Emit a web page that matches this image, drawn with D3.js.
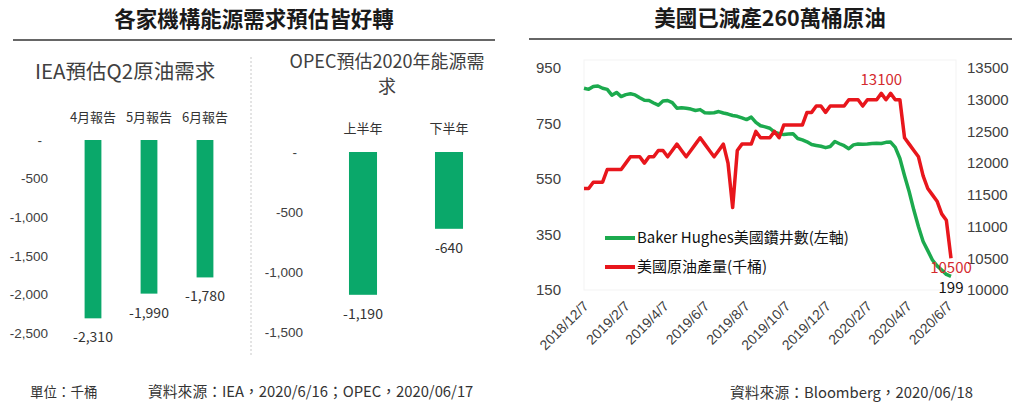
<!DOCTYPE html>
<html>
<head>
<meta charset="utf-8">
<script src="https://cdn.jsdelivr.net/npm/d3@7"></script>
<style>
  body { margin: 0; background: #fff; }
  svg { display: block; font-family: "Noto Sans CJK TC", "Noto Sans", sans-serif; }
  .tick line, .domain { display: none; }
</style>
</head>
<body>
<div id="chart"></div>
<script>
// ---- data ----
var iea_cats = ["4月報告", "5月報告", "6月報告"];
var iea_vals = [-2310, -1990, -1780];
var iea_ticks = [0, -500, -1000, -1500, -2000, -2500];

var opec_cats = ["上半年", "下半年"];
var opec_vals = [-1190, -640];
var opec_ticks = [0, -500, -1000, -1500];

// weekly, first week 2018/12/7
var first_week = "2018-12-07";
var rig_count = [877, 873, 883, 885, 877, 873, 852, 862, 847, 854, 857, 853, 843, 834, 833, 824,
  816, 831, 833, 825, 805, 807, 805, 802, 797, 800, 789, 788, 789, 793, 788, 784,
  779, 776, 770, 764, 773, 754, 742, 738, 733, 719, 713, 710, 712, 713, 696, 691,
  684, 674, 671, 668, 663, 667, 685, 677, 670, 659, 673, 676, 675, 676, 678, 679,
  678, 682, 683, 664, 624, 562, 504, 438, 378, 325, 292, 258, 237, 222, 206, 199];
var us_output = [11600, 11600, 11700, 11700, 11700, 11900, 11900, 11900, 11900, 12000, 12100, 12100, 12100, 12000, 12100, 12100,
  12200, 12200, 12100, 12200, 12300, 12200, 12100, 12200, 12300, 12400, 12300, 12200, 12100, 12200, 12300, 12000,
  11300, 12200, 12300, 12300, 12300, 12500, 12400, 12400, 12400, 12500, 12400, 12600, 12600, 12600, 12600, 12600,
  12800, 12800, 12900, 12900, 12800, 12900, 12900, 12900, 12900, 13000, 13000, 13000, 12900, 13000, 13000, 13000,
  13100, 13000, 13100, 13000, 13000, 12400, 12300, 12200, 12100, 11800, 11600, 11500, 11400, 11200, 11100, 10500];
var date_ticks = ["2018-12-07", "2019-02-07", "2019-04-07", "2019-06-07", "2019-08-07",
  "2019-10-07", "2019-12-07", "2020-02-07", "2020-04-07", "2020-06-07"];
var left_ticks = [150, 350, 550, 750, 950];
var right_ticks = [10000, 10500, 11000, 11500, 12000, 12500, 13000, 13500];

var svg = d3.select("#chart").append("svg").attr("width", 1024).attr("height", 406);

var fmt = d3.formatLocale({decimal: ".", thousands: ",", grouping: [3], currency: ["", ""], minus: "-"}).format(",");
var parse = d3.timeParse("%Y-%m-%d");
var fmtDate = function (d) { return d.getFullYear() + "/" + (d.getMonth() + 1) + "/" + d.getDate(); };

var GREEN_BAR = "#0aa86a";
var GREEN = "#1caa4e";
var RED = "#e8161c";
var LABEL = "#404040";

// ---- headers ----
svg.append("text").attr("x", 254).attr("y", 27).attr("text-anchor", "middle")
  .style("font-size", "21.5px").style("font-weight", "bold").attr("fill", "#1a1a1a")
  .text("各家機構能源需求預估皆好轉");
svg.append("line").attr("x1", 13).attr("x2", 495).attr("y1", 40).attr("y2", 40)
  .attr("stroke", "#333").attr("stroke-width", 1.3);

svg.append("text").attr("x", 770).attr("y", 26).attr("text-anchor", "middle")
  .style("font-size", "21.5px").style("font-weight", "bold").attr("fill", "#1a1a1a")
  .text("美國已減產260萬桶原油");
svg.append("line").attr("x1", 529).attr("x2", 1012).attr("y1", 39).attr("y2", 39)
  .attr("stroke", "#333").attr("stroke-width", 1.3);

// divider
svg.append("line").attr("x1", 251).attr("x2", 251).attr("y1", 57).attr("y2", 355)
  .attr("stroke", "#c8c8c8").attr("stroke-dasharray", "2,2");

// ---- IEA bars ----
svg.append("text").attr("x", 35).attr("y", 79).style("font-size", "20.5px").attr("fill", LABEL)
  .text("IEA預估Q2原油需求");

var xIea = d3.scaleBand().domain(iea_cats).range([65, 233]).paddingInner(0.7).paddingOuter(0.35);
var yIea = d3.scaleLinear().domain([0, -2500]).range([140, 333]);

function barAxis(x, scale, ticks) {
  var g = svg.append("g").attr("transform", "translate(" + x + ",0)")
    .call(d3.axisLeft(scale).tickValues(ticks).tickSize(0).tickPadding(0)
      .tickFormat(function (d) { return d === 0 ? "-" : fmt(d); }));
  g.selectAll("text").style("font-size", "13.5px").style("font-family", null).attr("fill", LABEL)
    .attr("dx", function (d) { return d === 0 ? "-6px" : 0; });
}
barAxis(48, yIea, iea_ticks);

svg.selectAll(".iea-cat").data(iea_cats).enter().append("text")
  .attr("x", function (d) { return xIea(d) + xIea.bandwidth() / 2; }).attr("y", 122)
  .attr("text-anchor", "middle").style("font-size", "13px").attr("fill", "#333")
  .text(function (d) { return d; });

svg.selectAll(".iea-bar").data(iea_vals).enter().append("rect")
  .attr("x", function (d, i) { return xIea(iea_cats[i]); }).attr("width", xIea.bandwidth())
  .attr("y", yIea(0)).attr("height", function (d) { return yIea(d) - yIea(0); })
  .attr("fill", GREEN_BAR);

svg.selectAll(".iea-val").data(iea_vals).enter().append("text")
  .attr("x", function (d, i) { return xIea(iea_cats[i]) + xIea.bandwidth() / 2; })
  .attr("y", function (d) { return yIea(d) + 24; })
  .attr("text-anchor", "middle").style("font-size", "14px").attr("fill", "#333")
  .text(function (d) { return fmt(d); });

// ---- OPEC bars ----
svg.append("text").attr("x", 387).attr("y", 68).attr("text-anchor", "middle")
  .style("font-size", "18px").attr("fill", LABEL).text("OPEC預估2020年能源需");
svg.append("text").attr("x", 387).attr("y", 93).attr("text-anchor", "middle")
  .style("font-size", "18px").attr("fill", LABEL).text("求");

var xOpec = d3.scaleBand().domain(opec_cats).range([320, 492]).paddingInner(0.674).paddingOuter(0.337);
var yOpec = d3.scaleLinear().domain([0, -1500]).range([152, 332]);
barAxis(303, yOpec, opec_ticks);

svg.selectAll(".opec-cat").data(opec_cats).enter().append("text")
  .attr("x", function (d) { return xOpec(d) + xOpec.bandwidth() / 2; }).attr("y", 133)
  .attr("text-anchor", "middle").style("font-size", "13px").attr("fill", "#333")
  .text(function (d) { return d; });

svg.selectAll(".opec-bar").data(opec_vals).enter().append("rect")
  .attr("x", function (d, i) { return xOpec(opec_cats[i]); }).attr("width", xOpec.bandwidth())
  .attr("y", yOpec(0)).attr("height", function (d) { return yOpec(d) - yOpec(0); })
  .attr("fill", GREEN_BAR);

svg.selectAll(".opec-val").data(opec_vals).enter().append("text")
  .attr("x", function (d, i) { return xOpec(opec_cats[i]) + xOpec.bandwidth() / 2; })
  .attr("y", function (d) { return yOpec(d) + 24; })
  .attr("text-anchor", "middle").style("font-size", "14px").attr("fill", "#333")
  .text(function (d) { return fmt(d); });

// footers
svg.append("text").attr("x", 30).attr("y", 397).style("font-size", "13.5px").attr("fill", "#333")
  .text("單位：千桶");
svg.append("text").attr("x", 148).attr("y", 397).style("font-size", "14.8px").attr("fill", "#333")
  .text("資料來源：IEA，2020/6/16；OPEC，2020/06/17");
svg.append("text").attr("x", 730).attr("y", 398).style("font-size", "14.8px").attr("fill", "#333")
  .text("資料來源：Bloomberg，2020/06/18");

// ---- US lines ----
var start = parse(first_week);
var weeks = rig_count.map(function (d, i) { return d3.timeDay.offset(start, 7 * i); });

var xT = d3.scaleTime().domain([weeks[0], weeks[weeks.length - 1]]).range([584, 951]);
var yL = d3.scaleLinear().domain([150, 950]).range([290, 68]);
var yR = d3.scaleLinear().domain([10000, 13500]).range([290, 68]);

svg.append("rect").attr("x", 584).attr("y", 60).attr("width", 372).attr("height", 230)
  .attr("fill", "none").attr("stroke", "#f3f3f3");

var gl = svg.append("g").attr("transform", "translate(561,0)")
  .call(d3.axisLeft(yL).tickValues(left_ticks).tickSize(0).tickPadding(0));
gl.selectAll("text").style("font-size", "15px").style("font-family", null).attr("fill", LABEL);

var gr = svg.append("g").attr("transform", "translate(967,0)")
  .call(d3.axisRight(yR).tickValues(right_ticks).tickSize(0).tickPadding(0).tickFormat(d3.format("d")));
gr.selectAll("text").style("font-size", "15px").style("font-family", null).attr("fill", LABEL);

var gx = svg.append("g").attr("transform", "translate(0,296)")
  .call(d3.axisBottom(xT).tickValues(date_ticks.map(parse)).tickSize(0).tickPadding(0).tickFormat(fmtDate));
gx.selectAll("text").style("font-size", "14px").style("font-family", null).attr("fill", LABEL)
  .attr("y", 0).attr("dy", 0).attr("transform", "translate(5,11) rotate(-45)")
  .style("text-anchor", "end");

var lineL = d3.line().x(function (d, i) { return xT(weeks[i]); }).y(function (d) { return yL(d); });
var lineR = d3.line().x(function (d, i) { return xT(weeks[i]); }).y(function (d) { return yR(d); });

svg.append("path").datum(rig_count).attr("d", lineL).attr("fill", "none")
  .attr("stroke", GREEN).attr("stroke-width", 3.5).attr("stroke-linejoin", "round");
svg.append("path").datum(us_output).attr("d", lineR).attr("fill", "none")
  .attr("stroke", RED).attr("stroke-width", 3.5).attr("stroke-linejoin", "round");

// annotations
var peak = d3.max(us_output);
var peakIdx = us_output.indexOf(peak);
svg.append("text").attr("x", xT(weeks[peakIdx])).attr("y", 85).attr("text-anchor", "middle")
  .style("font-size", "15px").attr("fill", "#d42a2e").text(peak);
var last = weeks.length - 1;
svg.append("text").attr("x", xT(weeks[last])).attr("y", yR(us_output[last]) + 15).attr("text-anchor", "middle")
  .style("font-size", "15px").attr("fill", "#d42a2e").text(us_output[last]);
svg.append("text").attr("x", xT(weeks[last])).attr("y", yL(rig_count[last]) + 17).attr("text-anchor", "middle")
  .style("font-size", "15px").attr("fill", "#111").text(rig_count[last]);

// legend
var legend = [["Baker Hughes美國鑽井數(左軸)", GREEN], ["美國原油產量(千桶)", RED]];
legend.forEach(function (d, i) {
  var y = 238 + i * 29;
  svg.append("line").attr("x1", 605).attr("x2", 635).attr("y1", y).attr("y2", y)
    .attr("stroke", d[1]).attr("stroke-width", 4);
  svg.append("text").attr("x", 637).attr("y", y + 5).style("font-size", "15px").attr("fill", "#111")
    .text(d[0]);
});
</script>
</body>
</html>
